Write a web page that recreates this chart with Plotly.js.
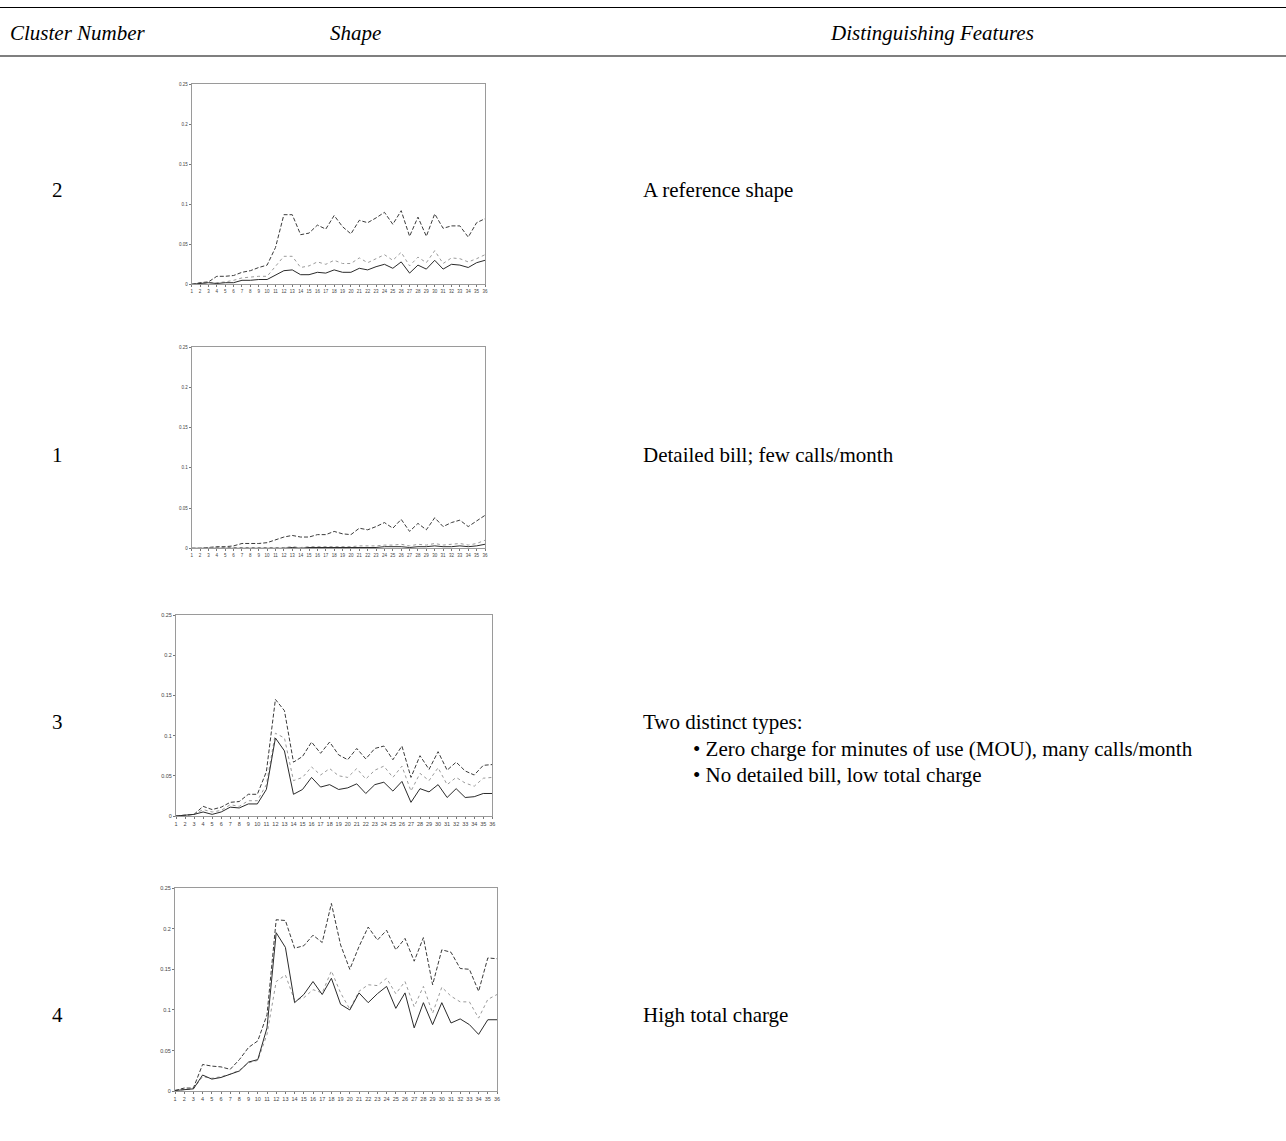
<!DOCTYPE html>
<html>
<head>
<meta charset="utf-8">
<script src="https://cdn.plot.ly/plotly-3.0.1.min.js"></script>
<style>html,body{margin:0;padding:0;background:#fff;}#chart{width:1286px;height:1141px;}</style>
</head>
<body>
<div id="chart"></div>
<script>
// ---- data ----
var months = [1,2,3,4,5,6,7,8,9,10,11,12,13,14,15,16,17,18,19,20,21,22,23,24,25,26,27,28,29,30,31,32,33,34,35,36];
var yTickVals = [0, 0.05, 0.1, 0.15, 0.2, 0.25];
var yTickText = ["0", "0.05", "0.1", "0.15", "0.2", "0.25"];
var clusterNumbers = ["2", "1", "3", "4"];
var headers = ["Cluster Number", "Shape", "Distinguishing Features"];
var features = [
  ["A reference shape"],
  ["Detailed bill; few calls/month"],
  ["Two distinct types:", "\u2022 Zero charge for minutes of use (MOU), many calls/month", "\u2022 No detailed bill, low total charge"],
  ["High total charge"]
];

// cluster 2
var c2Top = [0,0.002,0.003,0.010,0.010,0.011,0.015,0.017,0.021,0.024,0.046,0.087,0.087,0.062,0.064,0.074,0.069,0.086,0.072,0.063,0.080,0.077,0.083,0.090,0.075,0.092,0.060,0.084,0.060,0.088,0.070,0.073,0.073,0.059,0.077,0.082];
var c2Mid = [0,0.001,0.002,0.002,0.003,0.005,0.008,0.009,0.010,0.010,0.022,0.035,0.035,0.021,0.023,0.028,0.025,0.030,0.026,0.026,0.033,0.027,0.032,0.037,0.030,0.040,0.023,0.034,0.027,0.042,0.026,0.033,0.032,0.028,0.032,0.037];
var c2Low = [0,0.001,0.002,0.001,0.002,0.002,0.005,0.005,0.006,0.006,0.011,0.017,0.018,0.012,0.012,0.015,0.014,0.018,0.015,0.015,0.020,0.018,0.022,0.025,0.020,0.028,0.014,0.024,0.019,0.030,0.019,0.025,0.024,0.021,0.027,0.030];
// cluster 1
var c1Top = [0,0,0.001,0.002,0.002,0.003,0.006,0.006,0.006,0.007,0.011,0.014,0.016,0.014,0.014,0.017,0.017,0.021,0.018,0.017,0.025,0.023,0.027,0.032,0.025,0.036,0.021,0.031,0.023,0.038,0.027,0.032,0.035,0.027,0.034,0.041];
var c1Mid = [0,0,0.001,0.001,0.001,0.001,0.001,0.001,0.001,0.001,0.001,0.001,0.002,0.001,0.002,0.002,0.002,0.002,0.002,0.002,0.003,0.003,0.003,0.004,0.004,0.005,0.003,0.005,0.004,0.006,0.004,0.005,0.006,0.004,0.006,0.010];
var c1Low = [0,0,0,0,0,0,0,0,0,0,0,0,0.001,0,0.001,0.001,0.001,0.001,0.001,0.001,0.001,0.001,0.001,0.002,0.002,0.002,0.001,0.002,0.002,0.003,0.002,0.002,0.003,0.002,0.003,0.005];
// cluster 3
var c3Top = [0,0.001,0.002,0.012,0.008,0.011,0.017,0.018,0.027,0.027,0.055,0.145,0.131,0.067,0.074,0.092,0.078,0.092,0.076,0.070,0.084,0.071,0.084,0.087,0.070,0.087,0.048,0.075,0.058,0.080,0.057,0.067,0.056,0.051,0.063,0.064];
var c3Mid = [0,0.001,0.002,0.008,0.005,0.007,0.014,0.012,0.019,0.019,0.039,0.103,0.097,0.044,0.048,0.061,0.051,0.059,0.050,0.048,0.059,0.046,0.057,0.062,0.048,0.062,0.031,0.053,0.044,0.060,0.039,0.048,0.041,0.037,0.047,0.048];
var c3Low = [0,0.001,0.002,0.005,0.002,0.005,0.011,0.010,0.015,0.015,0.033,0.097,0.081,0.027,0.033,0.048,0.036,0.039,0.033,0.035,0.040,0.028,0.039,0.042,0.031,0.043,0.017,0.034,0.030,0.039,0.023,0.034,0.023,0.024,0.028,0.028];
// cluster 4
var c4Top = [0.001,0.004,0.004,0.033,0.031,0.030,0.027,0.039,0.054,0.062,0.094,0.211,0.210,0.176,0.179,0.192,0.183,0.231,0.180,0.150,0.178,0.202,0.186,0.198,0.174,0.188,0.160,0.189,0.131,0.174,0.171,0.151,0.150,0.123,0.164,0.163];
var c4Mid = [0.001,0.002,0.003,0.018,0.016,0.018,0.021,0.026,0.035,0.038,0.070,0.135,0.143,0.112,0.115,0.125,0.121,0.148,0.121,0.101,0.123,0.131,0.130,0.139,0.120,0.135,0.104,0.129,0.096,0.128,0.117,0.110,0.110,0.090,0.113,0.119];
var c4Low = [0.001,0.002,0.003,0.020,0.015,0.017,0.021,0.025,0.036,0.039,0.078,0.195,0.177,0.109,0.119,0.135,0.119,0.139,0.107,0.100,0.121,0.109,0.120,0.129,0.102,0.121,0.078,0.109,0.082,0.109,0.084,0.089,0.082,0.070,0.088,0.088];

var seriesByCluster = [[c2Top,c2Mid,c2Low],[c1Top,c1Mid,c1Low],[c3Top,c3Mid,c3Low],[c4Top,c4Mid,c4Low]];

// ---- layout geometry (pixels) ----
var W = 1286, H = 1141;
var boxes = [
  {x0:191.7, x1:485, y0:84.3, y1:284.3, fs:4.5},
  {x0:191.7, x1:485, y0:347.3, y1:548.3, fs:4.5},
  {x0:176, x1:492.3, y0:615, y1:816, fs:5.5},
  {x0:175, x1:497, y0:888, y1:1091.3, fs:5.5}
];
var rowY = [190, 455, 722, 1015];
function px(x){return x/W;}
function py(y){return 1 - y/H;}

var styles = [
  {color:'#3a3a3a', dash:'4px,2px', width:1},
  {color:'#9a9a9a', dash:'dot', width:1},
  {color:'#2a2a2a', dash:'solid', width:1}
];

var TXT = 21;
var traces = [];
var layout = {
  width: W, height: H,
  margin: {l:0, r:0, t:0, b:0},
  paper_bgcolor: '#fff', plot_bgcolor: '#fff',
  showlegend: false,
  font: {family: 'Liberation Serif, Times New Roman, serif', color:'#000'},
  annotations: [], shapes: []
};

boxes.forEach(function(b, i){
  var n = i === 0 ? '' : String(i+1);
  var xa = 'xaxis' + n, ya = 'yaxis' + n;
  layout[xa] = {
    domain: [px(b.x0), px(b.x1)], anchor: 'y' + n, range: [1, 36],
    tickmode: 'array', tickvals: months, ticktext: months.map(String),
    ticks: 'outside', ticklen: 2, tickcolor: '#777', tickwidth: 1,
    showline: true, mirror: true, linecolor: '#9a9a9a', linewidth: 1,
    showgrid: false, zeroline: false,
    tickfont: {family: 'Liberation Sans, Arial, sans-serif', size: b.fs, color: '#444'}
  };
  layout[ya] = {
    domain: [py(b.y1), py(b.y0)], anchor: 'x' + n, range: [0, 0.25],
    tickmode: 'array', tickvals: yTickVals, ticktext: yTickText,
    ticks: 'outside', ticklen: 2, tickcolor: '#777', tickwidth: 1,
    showline: true, mirror: true, linecolor: '#9a9a9a', linewidth: 1,
    showgrid: false, zeroline: false,
    tickfont: {family: 'Liberation Sans, Arial, sans-serif', size: b.fs, color: '#444'}
  };
  seriesByCluster[i].forEach(function(arr, k){
    traces.push({
      x: months, y: arr, type: 'scatter', mode: 'lines',
      xaxis: 'x' + n, yaxis: 'y' + n, cliponaxis: true,
      line: {color: styles[k].color, dash: styles[k].dash, width: styles[k].width},
      hoverinfo: 'skip'
    });
  });
  // cluster number
  layout.annotations.push({
    xref:'paper', yref:'paper', x: px(57), y: py(rowY[i]), xanchor:'center', yanchor:'middle',
    text: clusterNumbers[i], showarrow:false, font:{size:TXT, family:'Liberation Serif, serif', color:'#000'}
  });
  // features
  features[i].forEach(function(line, j){
    var left = j === 0 ? 641 : 691;
    layout.annotations.push({
      xref:'paper', yref:'paper', x: px(left), y: py(rowY[i] + j*26.5), xanchor:'left', yanchor:'middle',
      text: line, showarrow:false, font:{size:TXT, family:'Liberation Serif, serif', color:'#000'}
    });
  });
});

// headers
var headerX = [8, 328, 828];
headers.forEach(function(h, i){
  layout.annotations.push({
    xref:'paper', yref:'paper', x: px(headerX[i]), y: py(33), xanchor:'left', yanchor:'middle',
    text: '<i>' + h + '</i>', showarrow:false, font:{size:TXT, family:'Liberation Serif, serif', color:'#000'}
  });
});
// rules
[7.5, 56].forEach(function(y){
  layout.shapes.push({type:'line', xref:'paper', yref:'paper', x0:0, x1:1, y0:py(y), y1:py(y), line:{color:'#000', width:1.2}});
});

Plotly.newPlot('chart', traces, layout, {staticPlot:true, displayModeBar:false});
</script>
</body>
</html>
